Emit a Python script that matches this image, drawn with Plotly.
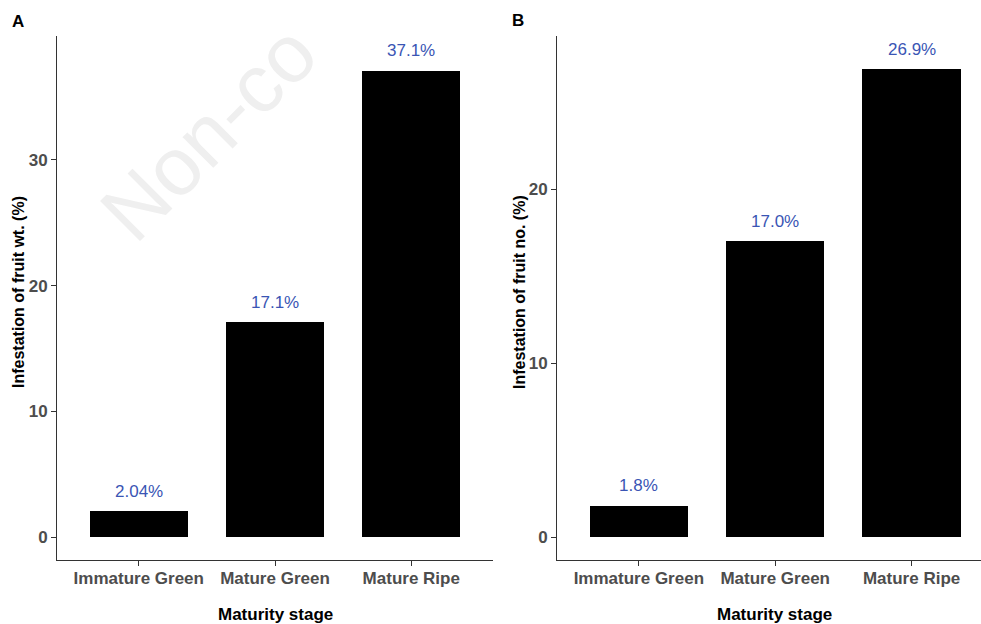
import plotly.graph_objects as go

# Infestation by maturity stage
stages = ["Immature Green", "Mature Green", "Mature Ripe"]
infest_wt = [2.04, 17.1, 37.1]   # % infestation of fruit weight
infest_no = [1.8, 17.0, 26.9]    # % infestation of fruit number
labels_wt = [f"{v:.3g}%" for v in infest_wt]
labels_no = [f"{v:.1f}%" for v in infest_no]
y_ticks_wt = [0, 10, 20, 30]
y_ticks_no = [0, 10, 20]

W, H = 981, 624
FONT = "Liberation Sans, Arial, sans-serif"
LABEL_BLUE = "#3a55b4"
TICK_GREY = "#4d4d4d"
AXIS_COL = "#333333"

def px(x):
    return x / W

def py(y):
    return 1 - y / H

fig = go.Figure()
fig.add_trace(go.Bar(x=stages, y=infest_wt, width=0.72, marker=dict(color="black", line_width=0),
                     xaxis="x", yaxis="y", showlegend=False, hoverinfo="x+y"))
fig.add_trace(go.Bar(x=stages, y=infest_no, width=0.72, marker=dict(color="black", line_width=0),
                     xaxis="x2", yaxis="y2", showlegend=False, hoverinfo="x+y"))

ann = []

# faint watermark (drawn first so it sits beneath the other annotations)
ann.append(dict(x=px(208), y=py(132), xref="paper", yref="paper", text="Non-co",
                showarrow=False, textangle=-45, xanchor="center", yanchor="middle",
                font=dict(family=FONT, size=82, color="#efefef")))

for s, v, t in zip(stages, infest_wt, labels_wt):
    ann.append(dict(x=s, y=v, xref="x", yref="y", text=t, showarrow=False, yanchor="middle",
                    yshift=20, font=dict(family=FONT, size=17, color=LABEL_BLUE)))
for s, v, t in zip(stages, infest_no, labels_no):
    ann.append(dict(x=s, y=v, xref="x2", yref="y2", text=t, showarrow=False, yanchor="middle",
                    yshift=20, font=dict(family=FONT, size=17, color=LABEL_BLUE)))

# panel tags
ann.append(dict(x=px(10), y=py(22), xref="paper", yref="paper", text="<b>A</b>", showarrow=False,
                xanchor="left", yanchor="middle", font=dict(family=FONT, size=17, color="black")))
ann.append(dict(x=px(510), y=py(20), xref="paper", yref="paper", text="<b>B</b>", showarrow=False,
                xanchor="left", yanchor="middle", font=dict(family=FONT, size=17, color="black")))

# axis titles
title_font = dict(family=FONT, size=17, color="black")
ann.append(dict(x=px(275), y=py(614), xref="paper", yref="paper", text="<b>Maturity stage</b>",
                showarrow=False, xanchor="center", yanchor="middle", font=title_font))
ann.append(dict(x=px(774), y=py(614), xref="paper", yref="paper", text="<b>Maturity stage</b>",
                showarrow=False, xanchor="center", yanchor="middle", font=title_font))
ytitle_font = dict(family=FONT, size=16, color="black")
ann.append(dict(x=px(18), y=py(292), xref="paper", yref="paper", text="<b>Infestation of fruit wt. (%)</b>",
                showarrow=False, textangle=-90, xanchor="center", yanchor="middle", font=ytitle_font))
ann.append(dict(x=px(519), y=py(292), xref="paper", yref="paper", text="<b>Infestation of fruit no. (%)</b>",
                showarrow=False, textangle=-90, xanchor="center", yanchor="middle", font=ytitle_font))

tick_font = dict(family=FONT, size=17, color=TICK_GREY, weight="bold")
axis_common = dict(showline=True, linecolor=AXIS_COL, linewidth=1, ticks="outside", ticklen=5,
                   tickcolor=AXIS_COL, tickwidth=1, showgrid=False, zeroline=False,
                   tickfont=tick_font)

y_dom = [py(560), py(36)]
fig.update_layout(
    width=W, height=H, margin=dict(l=0, r=0, t=0, b=0),
    paper_bgcolor="white", plot_bgcolor="white",
    xaxis=dict(domain=[px(57), px(493)], range=[-0.6, 2.6], anchor="y", ticklabelstandoff=-2,
               **axis_common),
    yaxis=dict(domain=y_dom, range=[-1.83, 39.86], anchor="x", tickvals=y_ticks_wt, **axis_common),
    xaxis2=dict(domain=[px(557), 1.0], range=[-0.6, 2.509], anchor="y2", ticklabelstandoff=-2,
                **axis_common),
    yaxis2=dict(domain=y_dom, range=[-1.32, 28.8], anchor="x2", tickvals=y_ticks_no, **axis_common),
    annotations=ann,
    bargap=0,
)

fig.write_html("out.html")
